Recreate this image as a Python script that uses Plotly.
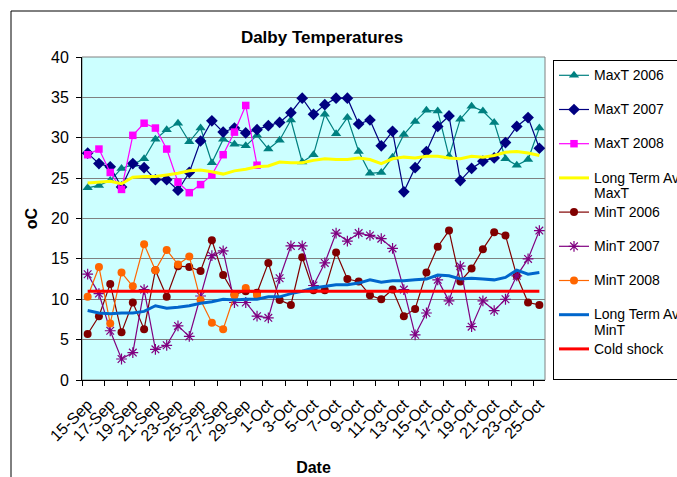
import plotly.graph_objects as go

dates = ["15-Sep", "16-Sep", "17-Sep", "18-Sep", "19-Sep", "20-Sep", "21-Sep", "22-Sep",
         "23-Sep", "24-Sep", "25-Sep", "26-Sep", "27-Sep", "28-Sep", "29-Sep", "30-Sep",
         "1-Oct", "2-Oct", "3-Oct", "4-Oct", "5-Oct", "6-Oct", "7-Oct", "8-Oct", "9-Oct",
         "10-Oct", "11-Oct", "12-Oct", "13-Oct", "14-Oct", "15-Oct", "16-Oct", "17-Oct",
         "18-Oct", "19-Oct", "20-Oct", "21-Oct", "22-Oct", "23-Oct", "24-Oct", "25-Oct"]

maxt_2006 = [23.8, 24.1, 24.7, 26.2, 26.7, 27.4, 29.8, 31.0, 31.8, 29.5, 31.2, 26.9, 29.8, 29.2,
             29.0, 30.3, 28.6, 29.7, 32.2, 27.0, 27.9, 32.9, 30.5, 32.5, 28.3, 25.6, 25.7, 27.6,
             30.4, 32.0, 33.4, 33.3, 27.7, 32.3, 33.9, 33.3, 31.9, 27.4, 26.6, 27.3, 31.2]
maxt_2007 = [28.1, 26.8, 26.4, 23.9, 26.8, 26.3, 24.8, 24.8, 23.5, 25.7, 29.6, 32.1, 30.7, 31.2,
             30.6, 31.0, 31.5, 31.9, 33.1, 34.9, 32.9, 34.1, 34.9, 34.9, 31.7, 32.2, 29.0, 30.8,
             23.3, 26.3, 28.3, 31.4, 32.7, 24.7, 26.2, 27.1, 27.5, 29.4, 31.4, 32.5, 28.7]
maxt_2008 = [27.9, 28.6, 25.7, 23.6, 30.3, 31.8, 31.2, 28.6, 24.5, 23.2, 24.2, 25.4, 27.9, 30.7,
             34.0, 26.6]
lta_maxt = [24.4, 24.5, 24.6, 24.3, 25.1, 25.2, 25.2, 25.4, 25.6, 25.9, 26.0, 25.8, 25.5, 25.9,
            26.1, 26.4, 26.5, 27.0, 26.9, 26.9, 27.2, 27.4, 27.3, 27.3, 27.5, 27.3, 26.8, 27.4,
            27.6, 27.5, 27.7, 27.7, 27.5, 27.4, 27.7, 27.6, 27.8, 28.2, 28.3, 28.1, 27.8]
mint_2006 = [5.7, 7.9, 11.9, 5.9, 9.6, 6.3, 13.6, 10.3, 14.1, 14.0, 13.5, 17.3, 13.0, 10.6,
             11.0, 10.8, 14.5, 9.9, 9.3, 15.2, 11.1, 11.1, 15.8, 12.5, 12.2, 10.5, 10.0, 11.2,
             7.9, 8.8, 13.3, 16.5, 18.5, 12.2, 13.8, 16.2, 18.3, 17.9, 12.9, 9.6, 9.3]
mint_2007 = [13.1, 10.7, 6.1, 2.6, 3.4, 11.2, 3.8, 4.3, 6.7, 5.4, 10.4, 15.4, 16.0, 9.6,
             9.6, 7.9, 7.7, 12.6, 16.6, 16.6, 11.7, 14.5, 18.2, 17.2, 18.2, 17.9, 17.5, 16.3,
             11.2, 5.6, 8.3, 12.4, 9.8, 14.1, 6.6, 9.8, 8.6, 10.0, 12.9, 15.0, 18.5]
mint_2008 = [10.3, 14.0, 7.0, 13.3, 11.6, 16.8, 13.6, 16.1, 14.3, 15.3, 9.9, 7.1, 6.3, 10.5,
             11.4, 10.5]
lta_mint = [8.6, 8.3, 8.2, 8.3, 8.3, 8.5, 9.2, 8.9, 9.0, 9.2, 9.5, 9.7, 10.0, 9.9,
            10.0, 10.0, 10.3, 10.3, 10.7, 11.0, 11.4, 11.6, 11.8, 11.8, 12.0, 12.4, 12.1, 12.3,
            12.3, 12.4, 12.5, 13.0, 12.9, 12.5, 12.6, 12.5, 12.4, 12.7, 13.6, 13.1, 13.3]
cold_shock = [11, 11, 11, 11, 11, 11, 11, 11, 11, 11, 11, 11, 11, 11, 11, 11, 11, 11, 11, 11,
              11, 11, 11, 11, 11, 11, 11, 11, 11, 11, 11, 11, 11, 11, 11, 11, 11, 11, 11, 11, 11]

series_names = ["MaxT 2006", "MaxT 2007", "MaxT 2008", "Long Term Ave<br>MaxT",
                "MinT 2006", "MinT 2007", "MinT 2008", "Long Term Ave<br>MinT", "Cold shock"]

FONT = "Liberation Sans, Arial, sans-serif"


def legend_name(n):
    # legend text at 14px; a blank second line keeps every entry the same height
    parts = n.split("<br>")
    first = '<span style="font-size:14px">' + parts[0] + '</span>'
    second = '<span style="font-size:14px">' + parts[1] + '</span>' if len(parts) > 1 else "\u00a0"
    return first + "<br>" + second


fig = go.Figure()


def add(y, name, color, symbol=None, size=8, width=1.2, mline=0):
    mode = "lines+markers" if symbol else "lines"
    marker = dict(symbol=symbol, size=size, color=color,
                  line=dict(width=mline, color=color)) if symbol else None
    fig.add_trace(go.Scatter(x=dates[:len(y)], y=y, name=legend_name(name), mode=mode,
                             line=dict(color=color, width=width), marker=marker))


add(maxt_2006, series_names[0], "#008080", "triangle-up", 9)
add(maxt_2007, series_names[1], "#000080", "diamond", 9)
add(maxt_2008, series_names[2], "#FF00FF", "square", 7.5)
add(lta_maxt, series_names[3], "#FFFF00", None, width=3)
add(mint_2006, series_names[4], "#800000", "circle", 8)
add(mint_2007, series_names[5], "#800080", "asterisk-open", 9, mline=1.2)
add(mint_2008, series_names[6], "#FF6600", "circle", 8)
add(lta_mint, series_names[7], "#0066CC", None, width=3)
add(cold_shock, series_names[8], "#FF0000", None, width=3)

fig.update_layout(
    width=677, height=477,
    margin=dict(l=82, r=132, t=57, b=97, autoexpand=False),
    paper_bgcolor="white",
    plot_bgcolor="#CCFFFF",
    font=dict(family=FONT, color="black", size=15),
    title=dict(text="<b>Dalby Temperatures</b>", x=322 / 677, xanchor="center",
               y=1 - 37 / 477, yanchor="middle", font=dict(size=17, family=FONT)),
    showlegend=True,
    legend=dict(x=(553 - 82) / 463, y=(380 - 60) / 323, xanchor="left", yanchor="top",
                bgcolor="white", bordercolor="black", borderwidth=1,
                font=dict(size=12, family=FONT, color="black"), valign="top",
                traceorder="normal", tracegroupgap=0),
    xaxis=dict(type="category", showgrid=False, showline=True, linecolor="black",
               linewidth=1, ticks="outside", ticklen=5, tickcolor="black",
               tickson="boundaries", dtick=2, tick0=0, tickangle=-45,
               ticklabelstandoff=8,
               tickfont=dict(size=16), range=[-0.5, 40.5],
               title=dict(text="<b>Date</b>", font=dict(size=16), standoff=18)),
    yaxis=dict(range=[0, 40], dtick=5, showgrid=True, gridcolor="#808080", gridwidth=1,
               showline=True, linecolor="black", linewidth=1, ticks="outside",
               ticklen=5, tickcolor="black", tickfont=dict(size=16), zeroline=False,
               ticklabelstandoff=4,
               title=dict(text="<b>oC</b>", font=dict(size=16), standoff=9)),
    shapes=[
        dict(type="rect", xref="paper", yref="paper", x0=0, x1=1, y0=0, y1=1,
             line=dict(color="#808080", width=1), layer="below"),
        dict(type="rect", xref="paper", yref="paper", x0=(11 - 82) / 463, x1=2.0,
             y0=-1.0, y1=(380 - 11) / 323, line=dict(color="black", width=1)),
    ],
)

fig.write_html("out.html", config={"displayModeBar": False},
               post_script="document.body.style.margin='0';")
